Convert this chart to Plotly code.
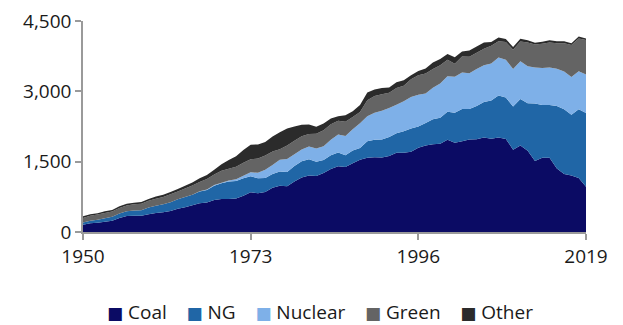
import plotly.graph_objects as go

years = list(range(1950, 2020))

coal = [155, 185, 195, 219, 239, 301, 339, 346, 344, 378,
        403, 422, 450, 494, 526, 571, 614, 631, 685, 706,
        704, 713, 771, 848, 828, 853, 944, 985, 976, 1075,
        1162, 1203, 1192, 1259, 1342, 1402, 1386, 1464, 1541, 1584,
        1594, 1591, 1621, 1690, 1691, 1709, 1795, 1845, 1874, 1881,
        1966, 1904, 1933, 1974, 1978, 2013, 1991, 2016, 1986, 1756,
        1847, 1733, 1514, 1581, 1582, 1352, 1239, 1206, 1150, 965]

ng = [45, 57, 67, 76, 86, 95, 104, 114, 120, 147,
      158, 169, 184, 202, 220, 222, 251, 265, 304, 333,
      373, 374, 376, 341, 320, 300, 295, 306, 305, 330,
      346, 346, 305, 274, 297, 292, 249, 273, 253, 353,
      373, 382, 404, 415, 460, 496, 455, 479, 531, 556,
      601, 639, 691, 650, 710, 761, 816, 897, 883, 921,
      988, 1014, 1226, 1125, 1127, 1334, 1378, 1296, 1469, 1575]

nuclear = [0, 0, 0, 0, 0, 0, 0, 0, 0, 0,
           1, 2, 2, 3, 3, 4, 6, 8, 13, 14,
           22, 38, 54, 84, 114, 173, 191, 251, 276, 255,
           251, 273, 283, 294, 328, 384, 414, 455, 527, 529,
           577, 613, 619, 610, 640, 673, 675, 629, 674, 728,
           754, 769, 780, 764, 789, 782, 787, 806, 806, 799,
           807, 790, 769, 789, 797, 797, 806, 805, 807, 820]

green = [101, 105, 110, 110, 113, 117, 123, 131, 141, 139,
         146, 153, 169, 167, 178, 195, 197, 224, 224, 252,
         250, 269, 276, 276, 305, 305, 288, 225, 286, 286,
         282, 267, 316, 341, 332, 292, 303, 263, 236, 345,
         357, 353, 325, 354, 330, 379, 416, 428, 395, 392,
         351, 278, 339, 350, 346, 352, 379, 348, 375, 413,
         422, 507, 490, 518, 536, 540, 604, 681, 703, 735]

other = [34, 29, 30, 35, 31, 37, 34, 35, 33, 41,
         48, 49, 49, 52, 57, 65, 78, 89, 104, 138,
         184, 220, 274, 314, 301, 289, 320, 358, 365, 304,
         246, 206, 147, 145, 120, 100, 137, 119, 149, 165,
         137, 131, 112, 125, 117, 87, 95, 106, 143, 131,
         126, 139, 108, 132, 134, 136, 81, 83, 65, 57,
         55, 47, 39, 44, 48, 45, 40, 36, 40, 30]

names = ["Coal", "NG", "Nuclear", "Green", "Other"]
colors = ["#0b0b64", "#2066a6", "#7eb0e8", "#646464", "#2b2b2b"]
series = [coal, ng, nuclear, green, other]

x_ticks = [1950, 1973, 1996, 2019]
y_ticks = [0, 1500, 3000, 4500]

fig = go.Figure()
for name, col, vals in zip(names, colors, series):
    fig.add_trace(go.Scatter(
        x=years, y=vals, name=name, stackgroup="one", mode="none",
        fillcolor=col, line=dict(width=0), showlegend=False,
        hoverinfo="x+y+name"))

# legend drawn as a single line of text with coloured squares
sq = "<span style='font-family:DejaVu Sans;font-size:17px;color:{c}'>\u25a0</span>\u00a0{n}"
legend_text = ("\u00a0" * 4).join(sq.format(c=c, n=n) for n, c in zip(names, colors))
fig.add_annotation(text=legend_text, xref="paper", yref="paper", x=0.472, y=-0.379,
                   xanchor="center", yanchor="middle", showarrow=False, borderpad=0,
                   font=dict(family="Open Sans", size=19, color="#1a1a1a"))

# page body has an 8px margin, so the figure is sized/offset to compensate
fig.update_layout(
    width=615, height=317,
    margin=dict(l=75, r=37, t=13, b=93, autoexpand=False),
    paper_bgcolor="white", plot_bgcolor="white",
    font=dict(family="Open Sans", size=19, color="#1a1a1a"),
    showlegend=False,
)
fig.update_xaxes(range=[1950, 2019], tickvals=x_ticks, ticktext=[str(v) for v in x_ticks],
                 showgrid=False, zeroline=False, showline=True, linecolor="#9a9a9a",
                 linewidth=1.5, ticks="outside", ticklen=6, tickcolor="#9a9a9a",
                 tickwidth=1.5, tickfont=dict(size=19), ticklabeloverflow="allow")
fig.update_yaxes(range=[0, 4500], tickvals=y_ticks, tickformat=",d",
                 showgrid=False, zeroline=False, showline=True, linecolor="#9a9a9a",
                 linewidth=1.5, ticks="outside", ticklen=6, tickcolor="#9a9a9a",
                 tickwidth=1.5, tickfont=dict(size=19), ticklabeloverflow="allow")

fig.write_html("out.html")
